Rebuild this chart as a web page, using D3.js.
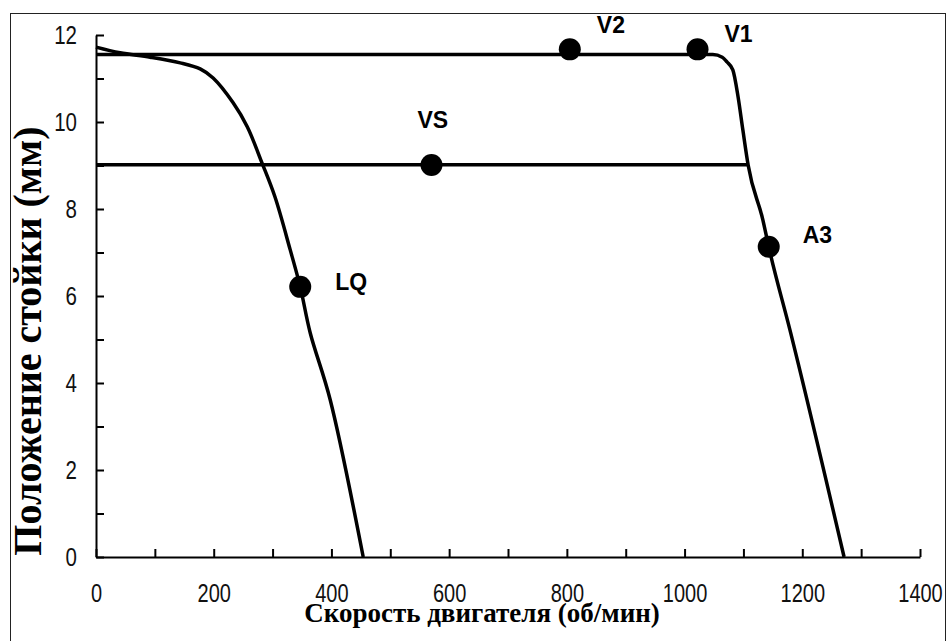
<!DOCTYPE html>
<html>
<head>
<meta charset="utf-8">
<script src="https://cdn.jsdelivr.net/npm/d3@7"></script>
<style>
  body { margin: 0; background: #fff; }
  .tick text { font-family: "Liberation Sans", Arial, sans-serif; font-size: 25px; fill: #111; }
</style>
</head>
<body>
<svg id="mount" width="948" height="641"></svg>
<script>
// Tick values
var speedTicks = [0, 100, 200, 300, 400, 500, 600, 700, 800, 900, 1000, 1100, 1200, 1300, 1400];
var speedLabels = [0, 200, 400, 600, 800, 1000, 1200, 1400];
var posTicks = [0, 1, 2, 3, 4, 5, 6, 7, 8, 9, 10, 11, 12];
var posLabels = [0, 2, 4, 6, 8, 10, 12];

// LQ curve (left)
var lqSpeed = [0, 41, 92, 143, 177, 199, 233, 257, 282, 304, 330, 347, 364, 398, 454];
var lqPos = [11.72, 11.59, 11.49, 11.36, 11.22, 11.01, 10.44, 9.89, 9.06, 8.28, 7.06, 6.21, 5.15, 3.61, 0];

// A3 curve (top line + right drop)
var a3Speed = [0, 1048, 1064, 1072, 1082, 1091, 1099, 1108, 1133, 1143, 1179, 1271];
var a3Pos = [11.55, 11.55, 11.49, 11.38, 11.2, 10.57, 9.82, 9.01, 7.75, 7.13, 5.22, 0];

// VS horizontal line
var vsSpeed = [0, 1108];
var vsPos = [9.02, 9.02];

// Marked points
var pointNames = ["V2", "V1", "VS", "LQ", "A3"];
var pointSpeed = [805, 1022, 570, 347, 1143];
var pointPos = [11.67, 11.67, 9.01, 6.21, 7.13];
// label offset from its point, px
var labelDx = [27, 27, -14, 35, 34];
var labelDy = [-16, -7, -37, 3, -4];

var svg = d3.select("#mount");

// outer frame
svg.append("rect")
  .attr("x", 10.5)
  .attr("y", 13.5)
  .attr("width", 935)
  .attr("height", 640)
  .attr("fill", "none")
  .attr("stroke", "#222")
  .attr("stroke-width", 1);

var margin = { top: 35, right: 28, bottom: 84, left: 96 };
var width = 948 - margin.left - margin.right;
var height = 641 - margin.top - margin.bottom;

var g = svg.append("g")
  .attr("transform", "translate(" + margin.left + "," + margin.top + ")");

var xScale = d3.scaleLinear().domain([0, 1400]).range([0, width]);
var yScale = d3.scaleLinear().domain([0, 12]).range([height, 0]);

// x axis
var xAxis = g.append("g")
  .attr("transform", "translate(0," + height + ")")
  .call(d3.axisBottom(xScale)
    .tickValues(speedTicks)
    .tickSizeInner(-8)
    .tickSizeOuter(0)
    .tickPadding(27)
    .tickFormat(function(d) { return speedLabels.indexOf(d) >= 0 ? d : ""; }));
// narrow digits like the original
xAxis.selectAll(".tick text").attr("transform", "scale(0.8,1)");

// y axis
var yAxis = g.append("g")
  .call(d3.axisLeft(yScale)
    .tickValues(posTicks)
    .tickSizeInner(-8)
    .tickSizeOuter(0)
    .tickPadding(19)
    .tickFormat(function(d) { return posLabels.indexOf(d) >= 0 ? d : ""; }));
yAxis.selectAll(".tick text")
  .attr("x", -19 / 0.82)
  .attr("transform", "scale(0.82,1)");

[xAxis, yAxis].forEach(function(ax) {
  ax.select(".domain").attr("stroke", "#000").attr("stroke-width", 2);
  ax.selectAll(".tick line").attr("stroke", "#000").attr("stroke-width", 2);
});

// lines
function lineWith(curve) {
  return d3.line()
    .curve(curve)
    .x(function(d) { return xScale(d[0]); })
    .y(function(d) { return yScale(d[1]); });
}

function pairs(xs, ys) {
  return xs.map(function(x, i) { return [x, ys[i]]; });
}

var series = [
  { data: pairs(lqSpeed, lqPos), curve: d3.curveCatmullRom.alpha(0.5) },
  { data: pairs(a3Speed, a3Pos), curve: d3.curveMonotoneX },
  { data: pairs(vsSpeed, vsPos), curve: d3.curveLinear }
];

series.forEach(function(s) {
  g.append("path")
    .datum(s.data)
    .attr("fill", "none")
    .attr("stroke", "#000")
    .attr("stroke-width", 3.5)
    .attr("stroke-linejoin", "round")
    .attr("d", lineWith(s.curve));
});

// points and labels
pointNames.forEach(function(name, i) {
  var cx = xScale(pointSpeed[i]);
  var cy = yScale(pointPos[i]);
  g.append("circle")
    .attr("cx", cx)
    .attr("cy", cy)
    .attr("r", 11)
    .attr("fill", "#000");
  g.append("text")
    .attr("x", cx + labelDx[i])
    .attr("y", cy + labelDy[i])
    .style("font-family", "'Liberation Sans', Arial, sans-serif")
    .style("font-weight", "bold")
    .style("font-size", "23px")
    .text(name);
});

// axis titles
svg.append("text")
  .attr("x", 482)
  .attr("y", 622)
  .attr("text-anchor", "middle")
  .style("font-family", "'Liberation Serif', 'Times New Roman', serif")
  .style("font-weight", "bold")
  .style("font-size", "27px")
  .text("Скорость двигателя (об/мин)");

svg.append("text")
  .attr("transform", "translate(41,341) rotate(-90)")
  .attr("text-anchor", "middle")
  .style("font-family", "'Liberation Serif', 'Times New Roman', serif")
  .style("font-weight", "bold")
  .style("font-size", "40px")
  .text("Положение стойки (мм)");
</script>
</body>
</html>
